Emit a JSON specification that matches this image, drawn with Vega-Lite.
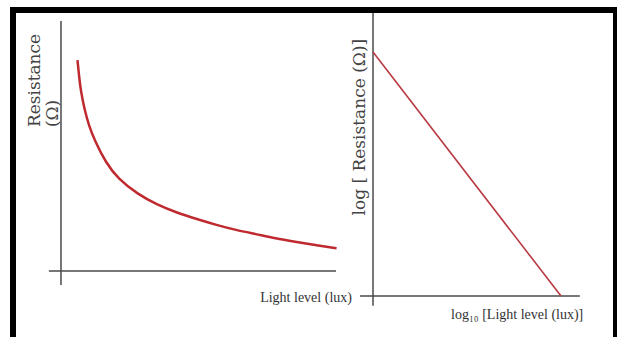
{
  "$schema": "https://vega.github.io/schema/vega-lite/v6.json",
  "width": 603,
  "height": 340,
  "autosize": {"type": "none"},
  "padding": {"left": 13, "top": 10, "right": 3, "bottom": 0},
  "background": "white",
  "config": {"view": {"stroke": "black", "strokeWidth": 6}},
  "datasets": {
    "curve": [
      {"lux": 6.0, "res": 100},
      {"lux": 6.6, "res": 92},
      {"lux": 7.16, "res": 85.8},
      {"lux": 8.58, "res": 76.3},
      {"lux": 10.2, "res": 68.8},
      {"lux": 12.18, "res": 62.1},
      {"lux": 16.36, "res": 51.2},
      {"lux": 20.73, "res": 43.8},
      {"lux": 27.89, "res": 36.4},
      {"lux": 35.05, "res": 31.3},
      {"lux": 42.18, "res": 27.6},
      {"lux": 49.38, "res": 24.6},
      {"lux": 56.55, "res": 21.8},
      {"lux": 63.64, "res": 19.4},
      {"lux": 70.91, "res": 17.5},
      {"lux": 78.04, "res": 15.5},
      {"lux": 85.09, "res": 13.9},
      {"lux": 92.36, "res": 12.3},
      {"lux": 100.2, "res": 10.8}
    ],
    "leftAxes": [
      {"lux": 0, "lux2": 0, "res": -6.6, "res2": 118.5},
      {"lux": -4.4, "lux2": 100, "res": 0, "res2": 0}
    ],
    "leftVLabels": [
      {"lux": -9.45, "res": 68.2, "label": "Resistance"},
      {"lux": -3.0, "res": 68.2, "label": "(Ω)"}
    ],
    "leftHLabels": [
      {"lux": 105.8, "res": -12.8, "label": "Light level (lux)"}
    ],
    "logline": [
      {"logLux": 0, "logRes": 5},
      {"logLux": 4, "logRes": 0}
    ],
    "rightAxes": [
      {"logLux": 0, "logLux2": 0, "logRes": -0.2, "logRes2": 5.8},
      {"logLux": -0.277, "logLux2": 4.4, "logRes": 0, "logRes2": 0}
    ],
    "rightVLabels": [
      {"logLux": -0.277, "logRes": 3.46, "label": "log [ Resistance (Ω)]"}
    ],
    "rightHLabels": [
      {"logLux": 1.66, "logRes": -0.39, "label": "log₁₀ [Light level (lux)]"}
    ]
  },
  "layer": [
    {
      "encoding": {
        "x": {"field": "lux", "type": "quantitative", "scale": {"domain": [-17.45, 201.82], "nice": false, "zero": false}, "axis": null},
        "y": {"field": "res", "type": "quantitative", "scale": {"domain": [-37.44, 123.7], "nice": false, "zero": false}, "axis": null}
      },
      "layer": [
        {
          "data": {"name": "leftAxes"},
          "mark": {"type": "rule", "color": "#4a4a4a", "strokeWidth": 1.5},
          "encoding": {"x2": {"field": "lux2"}, "y2": {"field": "res2"}}
        },
        {
          "data": {"name": "curve"},
          "mark": {"type": "line", "color": "#bf2a30", "strokeWidth": 2.5, "interpolate": "basis"},
          "encoding": {"order": {"field": "lux", "type": "quantitative"}}
        },
        {
          "data": {"name": "leftVLabels"},
          "mark": {"type": "text", "angle": 270, "align": "left", "baseline": "middle", "font": "DejaVu Serif", "fontSize": 17, "color": "#444444"},
          "encoding": {"text": {"field": "label"}}
        },
        {
          "data": {"name": "leftHLabels"},
          "mark": {"type": "text", "align": "right", "baseline": "middle", "font": "Liberation Serif", "fontSize": 14, "color": "#333333"},
          "encoding": {"text": {"field": "label"}}
        }
      ]
    },
    {
      "encoding": {
        "x": {"field": "logLux", "type": "quantitative", "scale": {"domain": [-7.66, 5.17], "nice": false, "zero": false}, "axis": null},
        "y": {"field": "logRes", "type": "quantitative", "scale": {"domain": [-1.106, 5.861], "nice": false, "zero": false}, "axis": null}
      },
      "layer": [
        {
          "data": {"name": "rightAxes"},
          "mark": {"type": "rule", "color": "#4a4a4a", "strokeWidth": 1.5},
          "encoding": {"x2": {"field": "logLux2"}, "y2": {"field": "logRes2"}}
        },
        {
          "data": {"name": "logline"},
          "mark": {"type": "line", "color": "#b83a42", "strokeWidth": 1.6},
          "encoding": {"order": {"field": "logLux", "type": "quantitative"}}
        },
        {
          "data": {"name": "rightVLabels"},
          "mark": {"type": "text", "angle": 270, "align": "center", "baseline": "middle", "font": "DejaVu Serif", "fontSize": 17, "color": "#444444"},
          "encoding": {"text": {"field": "label"}}
        },
        {
          "data": {"name": "rightHLabels"},
          "mark": {"type": "text", "align": "left", "baseline": "middle", "font": "Liberation Serif", "fontSize": 14, "color": "#333333"},
          "encoding": {"text": {"field": "label"}}
        }
      ]
    }
  ],
  "resolve": {"scale": {"x": "independent", "y": "independent"}}
}
